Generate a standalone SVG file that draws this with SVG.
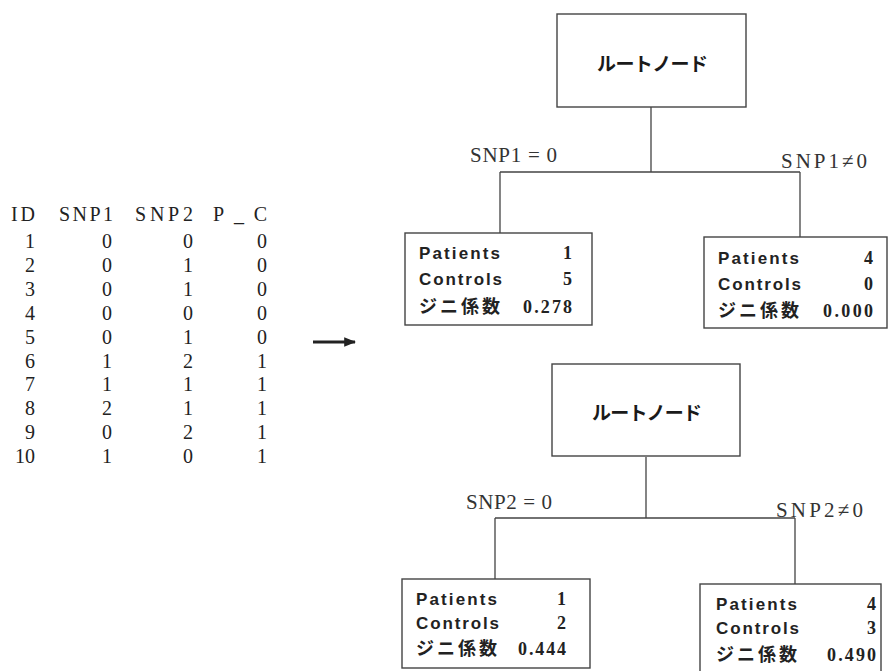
<svg xmlns="http://www.w3.org/2000/svg" width="890" height="671" viewBox="0 0 890 671">
<defs>
<style>
.bg{fill:#fff}
.tbl{font-family:"Liberation Serif","DejaVu Serif",serif;font-size:20px;fill:#222}
.r{text-anchor:end}
.box{fill:#fff;stroke:#444;stroke-width:1.4}
.ln{stroke:#444;stroke-width:1.3;fill:none}
.root{font-family:"Noto Sans CJK JP",sans-serif;font-weight:bold;font-size:19px;fill:#1a1a1a}
.lab{font-family:"Liberation Sans","Noto Sans",sans-serif;font-weight:bold;font-size:17px;fill:#222}
.jp{font-family:"Noto Sans CJK JP",sans-serif;font-weight:bold;font-size:18px;fill:#222}
.val{font-family:"Liberation Serif",serif;font-weight:bold;font-size:18px;fill:#222;text-anchor:end}
.edge{font-family:"Liberation Serif","DejaVu Serif",serif;font-size:21px;fill:#333}
</style>
<marker id="ah" viewBox="0 0 10 10" refX="9" refY="5" markerWidth="4" markerHeight="4" orient="auto"><path d="M0,1 L10,5 L0,9 Z" fill="#222"/></marker>
</defs>
<rect class="bg" width="890" height="671"/>

<g id="table" class="tbl">
<text x="11" y="221" textLength="24">ID</text>
<text x="59" y="221" textLength="54">SNP1</text>
<text x="135" y="221" textLength="58">SNP2</text>
<text x="213" y="221" textLength="54">P_C</text>
<g class="r">
<text x="35" y="248">1</text><text x="112" y="248">0</text><text x="193" y="248">0</text><text x="267" y="248">0</text>
<text x="35" y="272">2</text><text x="112" y="272">0</text><text x="193" y="272">1</text><text x="267" y="272">0</text>
<text x="35" y="296">3</text><text x="112" y="296">0</text><text x="193" y="296">1</text><text x="267" y="296">0</text>
<text x="35" y="320">4</text><text x="112" y="320">0</text><text x="193" y="320">0</text><text x="267" y="320">0</text>
<text x="35" y="344">5</text><text x="112" y="344">0</text><text x="193" y="344">1</text><text x="267" y="344">0</text>
<text x="35" y="368">6</text><text x="112" y="368">1</text><text x="193" y="368">2</text><text x="267" y="368">1</text>
<text x="35" y="391">7</text><text x="112" y="391">1</text><text x="193" y="391">1</text><text x="267" y="391">1</text>
<text x="35" y="415">8</text><text x="112" y="415">2</text><text x="193" y="415">1</text><text x="267" y="415">1</text>
<text x="35" y="439">9</text><text x="112" y="439">0</text><text x="193" y="439">2</text><text x="267" y="439">1</text>
<text x="35" y="463">10</text><text x="112" y="463">1</text><text x="193" y="463">0</text><text x="267" y="463">1</text>
</g>
</g>

<g id="connectors">
<line x1="313" y1="342" x2="355" y2="342" stroke="#222" stroke-width="3" marker-end="url(#ah)"/>
<path class="ln" d="M651,107 V172 M500,172 H800 M500,172 V233 M800,172 V237"/>
<path class="ln" d="M646,457 V518 M495,518 H795 M495,518 V579 M795,518 V584"/>
<text class="edge" x="470" y="162" textLength="87">SNP1 = 0</text>
<text class="edge" x="781" y="168" textLength="86">SNP1≠0</text>
<text class="edge" x="466" y="509" textLength="86">SNP2 = 0</text>
<text class="edge" x="776" y="517" textLength="87">SNP2≠0</text>
</g>

<g id="root1">
<rect class="box" x="557" y="14" width="189" height="93"/>
<text class="root" x="597" y="71" textLength="111">ルートノード</text>
</g>
<g id="leaf1a">
<rect class="box" x="405" y="233" width="187" height="92"/>
<text class="lab" x="419" y="259" textLength="81">Patients</text>
<text class="lab" x="419" y="285" textLength="83">Controls</text>
<text class="jp" x="419" y="313" textLength="81">ジニ係数</text>
<text class="val" x="572" y="259">1</text>
<text class="val" x="572" y="285">5</text>
<text class="val" x="572" y="313" textLength="49">0.278</text>
</g>
<g id="leaf1b">
<rect class="box" x="704" y="237" width="183" height="91"/>
<text class="lab" x="718" y="264" textLength="81">Patients</text>
<text class="lab" x="718" y="290" textLength="83">Controls</text>
<text class="jp" x="718" y="317" textLength="81">ジニ係数</text>
<text class="val" x="873" y="264">4</text>
<text class="val" x="873" y="290">0</text>
<text class="val" x="873" y="317" textLength="50">0.000</text>
</g>

<g id="root2">
<rect class="box" x="552" y="364" width="188" height="92"/>
<text class="root" x="592" y="420" textLength="110">ルートノード</text>
</g>
<g id="leaf2a">
<rect class="box" x="402" y="579" width="188" height="89"/>
<text class="lab" x="416" y="605" textLength="81">Patients</text>
<text class="lab" x="416" y="629" textLength="83">Controls</text>
<text class="jp" x="416" y="655" textLength="81">ジニ係数</text>
<text class="val" x="566" y="605">1</text>
<text class="val" x="566" y="629">2</text>
<text class="val" x="566" y="655" textLength="48">0.444</text>
</g>
<g id="leaf2b">
<rect class="box" x="700" y="584" width="181" height="92"/>
<text class="lab" x="716" y="610" textLength="81">Patients</text>
<text class="lab" x="716" y="634" textLength="83">Controls</text>
<text class="jp" x="716" y="661" textLength="81">ジニ係数</text>
<text class="val" x="876" y="610">4</text>
<text class="val" x="876" y="634">3</text>
<text class="val" x="876" y="661" textLength="49">0.490</text>
</g>
</svg>
